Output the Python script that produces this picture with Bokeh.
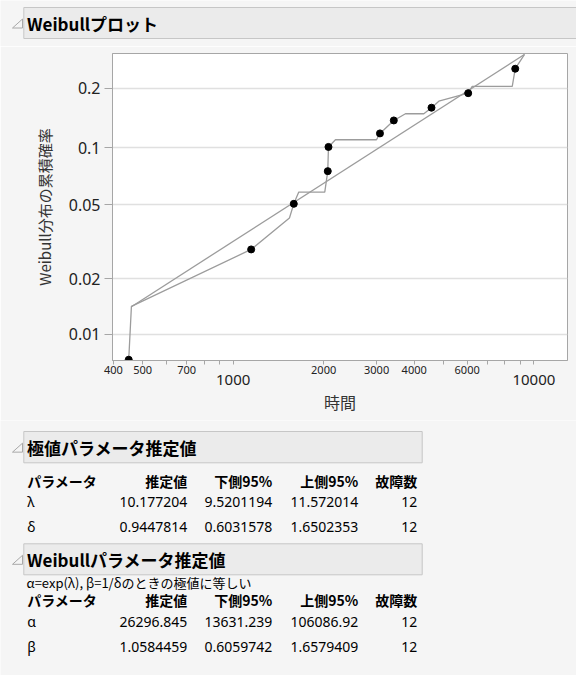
import numpy as np
from bokeh.plotting import figure
from bokeh.models import (Range1d, FixedTicker, LinearAxis, LogAxis, Grid,
                          CustomJSTickFormatter)
from bokeh.embed import file_html
from bokeh.resources import INLINE
from bokeh.core.properties import value

# ---------------- data ----------------
point_time = [449.5, 1148, 1591, 2064, 2075, 3078, 3422, 4567, 6049, 8672]
point_prob = [0.00725, 0.0288, 0.0506, 0.0754, 0.1009, 0.1185, 0.138, 0.160, 0.189, 0.248]

step_time = [449.5, 458.9, 1148, 1539, 1591, 1653, 2017, 2064, 2075, 2189, 2997,
             3078, 3422, 3742, 4306, 4567, 4831, 6049, 6238, 8477, 8672, 9313]
step_prob = [0.00725, 0.01416, 0.0288, 0.0425, 0.0506, 0.0584, 0.0584, 0.0754, 0.1009,
             0.1099, 0.1099, 0.1185, 0.138, 0.1492, 0.1492, 0.160, 0.1725, 0.189,
             0.2039, 0.2039, 0.248, 0.289]

fit_time = [458.9, 9300]
fit_prob = [0.0141, 0.289]

y_tick_prob = [0.01, 0.02, 0.05, 0.1, 0.2]
x_big_labels = [1000, 10000]
x_small_labels = [400, 500, 700, 2000, 3000, 4000, 6000]
x_other_ticks = [600, 800, 900, 1000, 5000, 7000, 8000, 9000, 10000]
x_limits = [397, 12940]
y_limits_prob = [0.00718, 0.292]

title_plot = "Weibullプロット"
title_ev = "極値パラメータ推定値"
title_wb = "Weibullパラメータ推定値"
note_wb = "α=exp(λ), β=1/δのときの極値に等しい"
col_headers = ["パラメータ", "推定値", "下側95%", "上側95%", "故障数"]

ev_param = ["λ", "δ"]
ev_est = ["10.177204", "0.9447814"]
ev_low = ["9.5201194", "0.6031578"]
ev_up = ["11.572014", "1.6502353"]
ev_n = ["12", "12"]

wb_param = ["α", "β"]
wb_est = ["26296.845", "1.0584459"]
wb_low = ["13631.239", "0.6059742"]
wb_up = ["106086.92", "1.6579409"]
wb_n = ["12", "12"]

# ---------------- style ----------------
W = 576
BG = "#f5f5f5"
BAR = "#ebebeb"
BAR_LINE = "#c6c6c6"
LINE = "#9c9c9c"
JP = "Noto Sans CJK JP"
LAT = "Noto Sans"


def wb(p):
    p = np.asarray(p, dtype=float)
    return np.log(-np.log(1.0 - p))


def blank(h):
    f = figure(width=W, height=h, x_range=Range1d(0, W), y_range=Range1d(h, 0),
               x_axis_location=None, y_axis_location=None, min_border=0,
               outline_line_color=None, background_fill_color=BG,
               border_fill_color=BG, output_backend="svg", toolbar_location=None)
    f.xgrid.visible = False
    f.ygrid.visible = False
    return f


def header(f, top, bottom, text, right):
    f.quad(left=23.3, right=right, top=top, bottom=bottom, fill_color=BAR,
           line_color=BAR_LINE, line_width=1)
    mid = (top + bottom) / 2 + 0.5
    f.patch([12, 22, 22], [mid + 4.5, mid + 4.5, mid - 4.5], fill_color=None,
            line_color="#a8a8a8", line_width=1)
    f.text(x=[26.5], y=[mid], text=[text], text_font=value(JP),
           text_font_size="17px", text_font_style="bold", text_baseline="middle",
           text_align="left", text_color="#000000")


# ---------------- header 1 ----------------
h1 = blank(46)
header(h1, 7, 38, title_plot, 620)

# ---------------- plot ----------------
p = figure(width=W, height=374, x_axis_type="log",
           x_range=Range1d(*x_limits),
           y_range=Range1d(*wb(y_limits_prob)),
           x_axis_location=None, y_axis_location=None,
           min_border_left=112, min_border_right=9, min_border_top=7,
           min_border_bottom=60, background_fill_color="white",
           border_fill_color=BG, outline_line_color="#a6a6a6",
           output_backend="svg", toolbar_location=None)
p.xgrid.visible = False
p.ygrid.visible = False

yticker = FixedTicker(ticks=list(wb(y_tick_prob)), minor_ticks=[])
yfmt = CustomJSTickFormatter(code="""
const p = 1 - Math.exp(-Math.exp(tick));
return String(parseFloat(p.toPrecision(2)));
""")
yaxis = LinearAxis(ticker=yticker, formatter=yfmt,
                   axis_label="Weibull分布の累積確率",
                   axis_label_text_font=JP, axis_label_text_font_size="15px",
                   axis_label_text_font_style="normal", axis_label_text_color="#333333",
                   axis_label_standoff=11,
                   major_label_text_font=LAT, major_label_text_font_size="16px",
                   major_label_text_color="#222222", major_label_standoff=4,
                   major_tick_out=8, major_tick_in=0, minor_tick_out=0, minor_tick_in=0,
                   axis_line_color="#a6a6a6", major_tick_line_color="#a6a6a6")
p.add_layout(yaxis, "left")
p.add_layout(Grid(dimension=1, ticker=yticker, grid_line_color="#e0e0e0",
                  grid_line_width=1.5))

xfmt = CustomJSTickFormatter(code="return String(Math.round(tick));")
xs = LogAxis(ticker=FixedTicker(ticks=x_small_labels, minor_ticks=x_other_ticks),
             formatter=xfmt,
             major_label_text_font=LAT, major_label_text_font_size="11px",
             major_label_text_color="#222222", major_label_standoff=1,
             major_tick_out=4, major_tick_in=0, minor_tick_out=4, minor_tick_in=0,
             axis_line_color="#a6a6a6", major_tick_line_color="#a6a6a6",
             minor_tick_line_color="#a6a6a6")
p.add_layout(xs, "below")
xl = LogAxis(ticker=FixedTicker(ticks=x_big_labels, minor_ticks=[]),
             formatter=xfmt,
             major_label_text_font=LAT, major_label_text_font_size="15px",
             major_label_text_color="#222222", major_label_standoff=-2,
             major_tick_out=0, major_tick_in=0, minor_tick_out=0, minor_tick_in=0,
             axis_line_color=None,
             axis_label="時間", axis_label_text_font=JP,
             axis_label_text_font_size="16px", axis_label_text_font_style="normal",
             axis_label_text_color="#333333", axis_label_standoff=2)
p.add_layout(xl, "below")

p.line(fit_time, list(wb(fit_prob)), line_color=LINE, line_width=1.3)
p.line(step_time, list(wb(step_prob)), line_color=LINE, line_width=1.3)
p.scatter(point_time, list(wb(point_prob)), size=7, fill_color="black",
          line_color="black")

# ---------------- tables ----------------
t = blank(255)
col_right = [186.7, 271.7, 357.7, 416.7]
left_x = 26.7


def table(f, y_head, y_rows, params, cols):
    f.text(x=[left_x], y=[y_head], text=[col_headers[0]], text_font=value(JP),
           text_font_size="14px", text_font_style="bold", text_baseline="middle",
           text_align="left", text_color="#000000")
    f.text(x=col_right, y=[y_head] * 4, text=col_headers[1:], text_font=value(JP),
           text_font_size="14px", text_font_style="bold", text_baseline="middle",
           text_align="right", text_color="#000000")
    f.text(x=[left_x] * len(params), y=y_rows, text=params, text_font=value(LAT),
           text_font_size="14px", text_baseline="middle", text_align="left",
           text_color="#000000")
    for cx, vals in zip(col_right, cols):
        f.text(x=[cx] * len(vals), y=y_rows, text=vals, text_font=value(LAT),
               text_font_size="14px", text_baseline="middle", text_align="right",
               text_color="#000000")


header(t, 11, 42.3, title_ev, 421.7)
table(t, 60, [81, 106], ev_param, [ev_est, ev_low, ev_up, ev_n])

header(t, 123.3, 154.3, title_wb, 421.7)
t.text(x=[26], y=[162.3], text=[note_wb], text_font=value(JP),
       text_font_size="13px", text_baseline="middle", text_align="left",
       text_color="#000000")
table(t, 179.3, [201, 226], wb_param, [wb_est, wb_low, wb_up, wb_n])

html = file_html([h1, p, t], INLINE)
html = html.replace("<body>", '<body style="background-color:#f5f5f5;">', 1)
open("out.html", "w").write(html)
